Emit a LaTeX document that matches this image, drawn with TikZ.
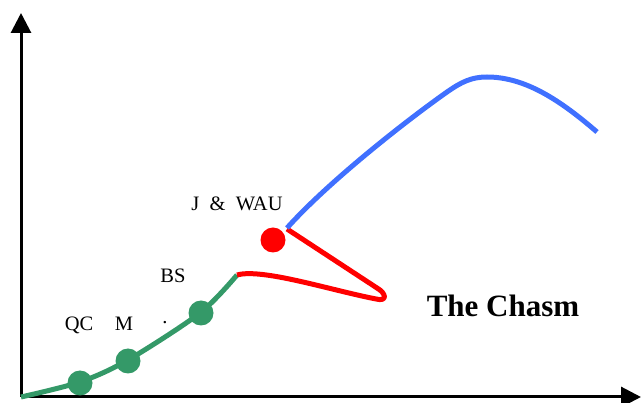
\documentclass[tikz,border=0pt]{standalone}
\usepackage{fontspec}
\setmainfont{Liberation Serif}
\usetikzlibrary{arrows.meta}
\definecolor{chgreen}{RGB}{52,153,104}
\definecolor{chblue}{RGB}{64,112,255}
\definecolor{chred}{RGB}{255,0,0}
\begin{document}
\begin{tikzpicture}[x=1pt,y=-1pt,
  axis/.style={line width=3pt,-{Triangle[width=20pt,length=20pt]}},
  curve/.style={line width=5pt,line cap=butt},
  dot/.style={circle,inner sep=0pt,minimum size=25pt,fill=#1},
  lbl/.style={font=\fontsize{20.5}{21}\selectfont,anchor=base,inner sep=0pt},
  title/.style={font=\fontsize{31}{32}\selectfont\bfseries,anchor=base,inner sep=0pt}]
\useasboundingbox (0,0) rectangle (641,403);
\coordinate (o) at (21,397);
\coordinate (ytop) at (21,13);
\coordinate (xend) at (641,397);
\draw[axis] (o) -- (ytop);
\draw[axis] (o) -- (xend);
% green curve
\coordinate (g0) at (21,397);
\coordinate (g4) at (237,275);
\draw[curve,chgreen] plot[smooth,tension=0.5] coordinates {(21,397) (80,382) (128,360) (200,313) (237,275)};
\node[dot=chgreen] (qc) at (80,383) {};
\node[dot=chgreen] (m) at (128,361) {};
\node[dot=chgreen] (bs) at (201,313) {};
% red curve
\coordinate (rtip) at (287,229);
\draw[curve,chred,line join=round] (g4) .. controls (262,268) and (330,290) .. (376,299)
  .. controls (388,302) and (386,293) .. (377,288) -- (rtip);
\node[dot=chred] (jw) at (273,240) {};
% blue curve
\coordinate (b0) at (287,228);
\coordinate (b1) at (447,92);
\coordinate (b2) at (487,77);
\coordinate (b3) at (597,132);
\draw[curve,chblue] (b0) .. controls (330,180) and (410,118) .. (b1)
  .. controls (462,81.5) and (472,77) .. (b2)
  .. controls (525,77) and (560,100) .. (b3);
% labels
\node[lbl] (lqc) at (79,331) {QC};
\node[lbl] (lm) at (124,331) {M};
\node[lbl] (ldot) at (165,324) {.};
\node[lbl] (lbs) at (173,283) {BS};
\node[lbl] (ljw) at (237,211) {J\ \ \&\ \ WAU};
\node[title] (chasm) at (503,317) {The Chasm};
\end{tikzpicture}
\end{document}
